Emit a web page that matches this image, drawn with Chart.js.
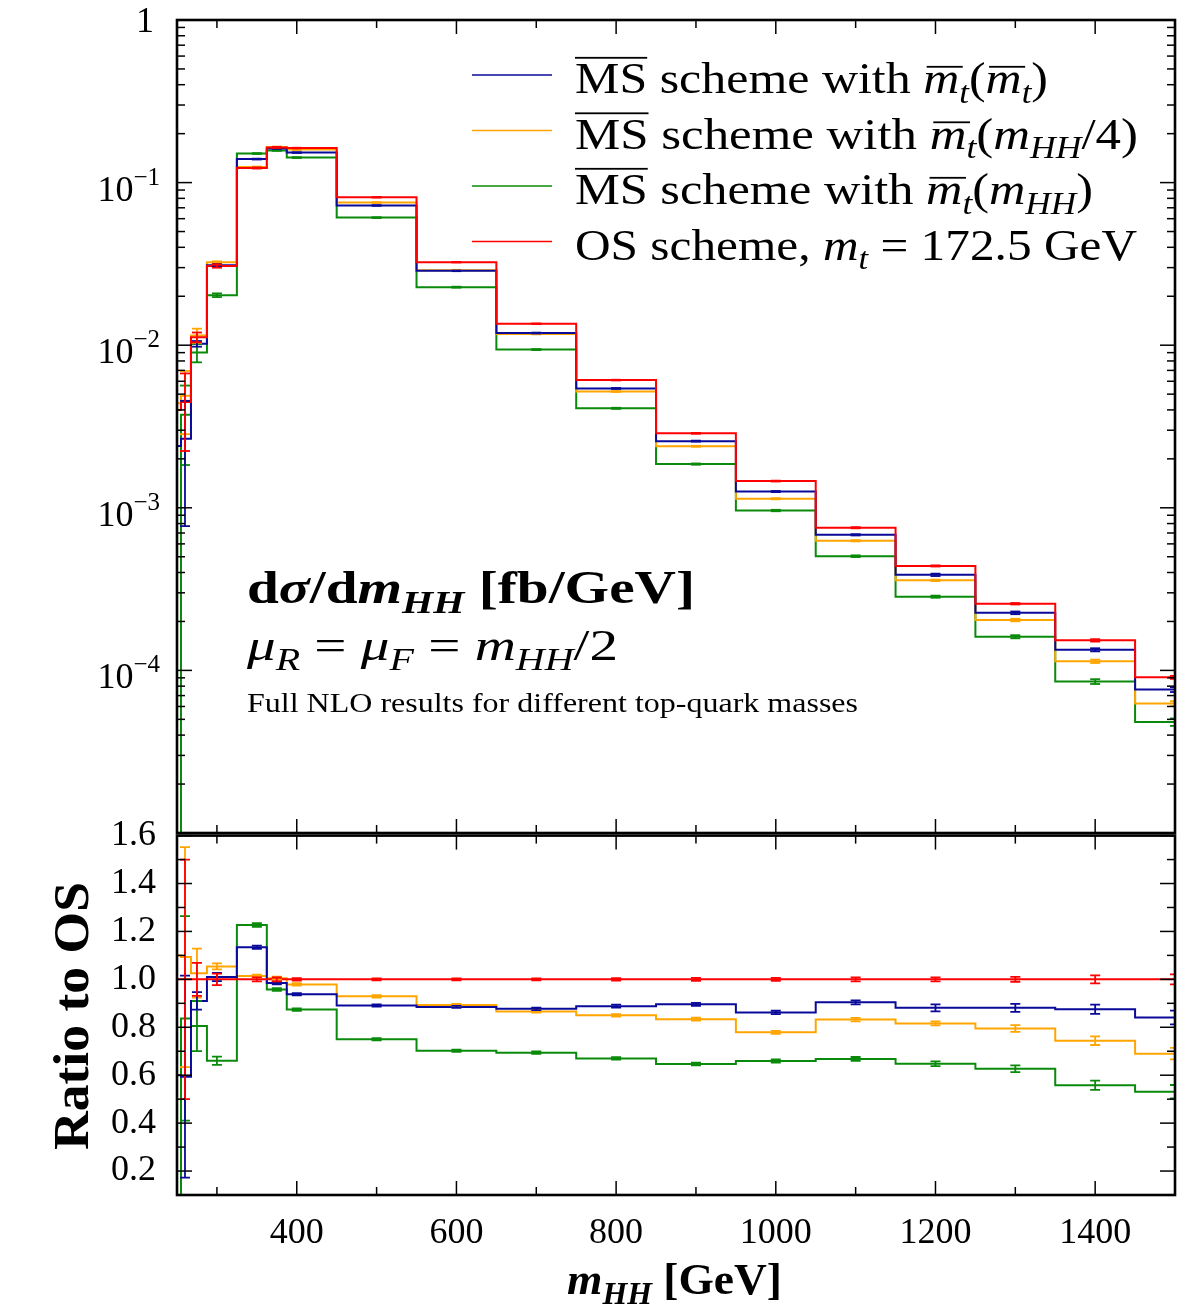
<!DOCTYPE html>
<html>
<head>
<meta charset="utf-8">
<title>m_HH distribution, top-mass schemes</title>
<script src="https://cdn.jsdelivr.net/npm/chart.js@4.4.1/dist/chart.umd.min.js"></script>
<style>
  html, body { margin: 0; padding: 0; background: #fff; }
  #wrap { position: relative; width: 1178px; height: 1306px; overflow: hidden; }
  canvas { position: absolute; left: 0; }
</style>
</head>
<body>
<div id="wrap">
  <canvas id="dist" width="1178" height="840" style="top:0"></canvas>
  <canvas id="ratio" width="1178" height="513" style="top:793px"></canvas>
</div>
<script>
// bin points in m_HH [GeV]
const mhh = [250, 260, 275, 300, 350, 375, 400, 500, 600, 700, 800, 900, 1000, 1100, 1200, 1300, 1400, 1500];

// dsigma/dm_HH [fb/GeV]
const osScheme  = [4.0e-3, 4.47e-3, 1.12e-2, 3.07e-2, 0.123, 0.1646, 0.163, 0.0812, 0.0324, 0.01355, 6.1e-3, 2.87e-3, 1.46e-3, 7.54e-4, 4.39e-4, 2.57e-4, 1.53e-4, 9.06e-5];
const msRunning = [2.4e-3, 2.66e-3, 1.02e-2, 3.10e-2, 0.1395, 0.1621, 0.1529, 0.0723, 0.02867, 0.01188, 5.42e-3, 2.57e-3, 1.259e-3, 6.82e-4, 3.87e-4, 2.26e-4, 1.339e-4, 7.62e-5];
const msQuarter = [4.4e-3, 4.89e-3, 1.149e-2, 3.24e-2, 0.1247, 0.1654, 0.1596, 0.0754, 0.02893, 0.01173, 5.19e-3, 2.39e-3, 1.137e-3, 6.27e-4, 3.58e-4, 2.04e-4, 1.138e-4, 6.25e-5];
const msFull    = [1e-7, 3.74e-3, 9.02e-3, 2.03e-2, 0.1509, 0.1577, 0.1425, 0.0609, 0.02274, 9.40e-3, 4.09e-3, 1.857e-3, 9.62e-4, 5.04e-4, 2.84e-4, 1.611e-4, 8.54e-5, 4.81e-5];

// ratio to OS
const ratioOS      = [1, 1, 1, 1, 1, 1, 1, 1, 1, 1, 1, 1, 1, 1, 1, 1, 1, 1];
const ratioRunning = [0.6, 0.594, 0.91, 1.01, 1.134, 0.985, 0.938, 0.891, 0.885, 0.877, 0.888, 0.896, 0.862, 0.904, 0.881, 0.881, 0.875, 0.841];
const ratioQuarter = [1.1, 1.093, 1.026, 1.054, 1.014, 1.005, 0.979, 0.929, 0.893, 0.866, 0.85, 0.834, 0.779, 0.832, 0.816, 0.795, 0.744, 0.69];
const ratioFull    = [0, 0.837, 0.805, 0.66, 1.227, 0.958, 0.874, 0.75, 0.702, 0.694, 0.67, 0.647, 0.659, 0.668, 0.648, 0.627, 0.558, 0.531];

// relative statistical uncertainty of each point
const errOS      = [0, 0.5, 0.069, 0.024, 0.008, 0.008, 0.005, 0.004, 0.004, 0.004, 0.005, 0.006, 0.006, 0.008, 0.008, 0.01, 0.017, 0.021];
const errRunning = [0, 0.71, 0.04, 0.017, 0.006, 0.006, 0.005, 0.005, 0.005, 0.006, 0.007, 0.007, 0.008, 0.009, 0.017, 0.019, 0.022, 0.034];
const errQuarter = [0, 0.42, 0.1, 0.012, 0.006, 0.006, 0.005, 0.005, 0.005, 0.006, 0.006, 0.007, 0.008, 0.009, 0.01, 0.018, 0.024, 0.035];
const errFull    = [0, 0.51, 0.13, 0.026, 0.006, 0.006, 0.006, 0.006, 0.007, 0.007, 0.008, 0.009, 0.01, 0.012, 0.015, 0.022, 0.034, 0.053];

// axis labels
const xTickLabels = [400, 600, 800, 1000, 1200, 1400];
const ratioTickLabels = [0.2, 0.4, 0.6, 0.8, 1.0, 1.2, 1.4, 1.6];
const decadeExponents = [-4, -3, -2, -1, 0];

const BLUE = '#0a0a9a', ORANGE = '#ffa500', GREEN = '#0a8a0a', RED = '#ff0000';
const SERIF = '"Liberation Serif", "DejaVu Serif", serif';

// ---- small rich text helper (italic, bold, sub/superscript, overbar) ----
function fontFor(p, size) {
  const s = (p.sub || p.sup) ? size * 0.7 : size;
  return `${p.i ? 'italic ' : ''}${p.b ? 'bold ' : ''}${s}px ${SERIF}`;
}
function richWidth(ctx, parts, size) {
  return parts.reduce((w, p) => { ctx.font = fontFor(p, size); return w + ctx.measureText(p.t).width; }, 0);
}
function drawRich(ctx, x, y, parts, size, width) {
  const natural = richWidth(ctx, parts, size);
  ctx.save();
  ctx.translate(x, y);
  ctx.scale(width ? width / natural : 1, 1);
  ctx.fillStyle = '#000';
  ctx.textAlign = 'left';
  ctx.textBaseline = 'alphabetic';
  let cx = 0;
  parts.forEach(p => {
    ctx.font = fontFor(p, size);
    const dy = p.sub ? size * 0.22 : p.sup ? -size * 0.4 : 0;
    ctx.fillText(p.t, cx, dy);
    const w = ctx.measureText(p.t).width;
    if (p.bar) {
      const by = -(p.bar === 'cap' ? 0.78 : 0.58) * size;
      ctx.fillRect(cx + (p.i ? size * 0.07 : 0), by - 1, w, 1.8);
    }
    cx += w;
  });
  ctx.restore();
}

const mbar = { t: 'm', i: true, bar: 'x' };
const sub = t => ({ t, i: true, sub: true });
const legendRows = [
  [{ t: 'MS', bar: 'cap' }, { t: ' scheme with ' }, mbar, sub('t'), { t: '(' }, mbar, sub('t'), { t: ')' }],
  [{ t: 'MS', bar: 'cap' }, { t: ' scheme with ' }, mbar, sub('t'), { t: '(' }, { t: 'm', i: true }, sub('HH'), { t: '/4)' }],
  [{ t: 'MS', bar: 'cap' }, { t: ' scheme with ' }, mbar, sub('t'), { t: '(' }, { t: 'm', i: true }, sub('HH'), { t: ')' }],
  [{ t: 'OS scheme, ' }, { t: 'm', i: true }, sub('t'), { t: ' = 172.5 GeV' }]
];
const legendColors = [BLUE, ORANGE, GREEN, RED];
const legendWidths = [473, 563, 518, 562];

// ---- plugins ----
function line(ctx, x1, y1, x2, y2) {
  ctx.beginPath(); ctx.moveTo(x1, y1); ctx.lineTo(x2, y2); ctx.stroke();
}

const errorBars = {
  id: 'errorBars',
  afterDatasetsDraw(chart) {
    const { ctx, chartArea: a, scales: { x, y } } = chart;
    ctx.save();
    ctx.beginPath(); ctx.rect(a.left, a.top, a.width, a.height); ctx.clip();
    ctx.lineWidth = 1.8;
    chart.data.datasets.slice().reverse().forEach(ds => {
      ctx.strokeStyle = ds.borderColor;
      ds.data.forEach((p, i) => {
        const e = ds.errors[i] * p.y;
        if (!e) return;
        const px = x.getPixelForValue(p.x);
        const hi = y.getPixelForValue(p.y + e);
        const lo = p.y - e > 0 ? y.getPixelForValue(p.y - e) : a.bottom + 20;
        line(ctx, px, hi, px, lo);
        line(ctx, px - 5, hi, px + 5, hi);
        line(ctx, px - 5, lo, px + 5, lo);
      });
    });
    ctx.restore();
  }
};

// inward ticks on all four sides plus the frame
const frame = {
  id: 'frame',
  afterDraw(chart, args, opts) {
    const { ctx, chartArea: a, scales: { x, y } } = chart;
    ctx.save();
    ctx.strokeStyle = '#000';
    ctx.lineWidth = 1.5;
    for (let v = 300; v <= 1500; v += 100) {
      const px = x.getPixelForValue(v);
      const len = v % 200 === 0 ? 14 : 8;
      line(ctx, px, a.bottom, px, a.bottom - len);
      line(ctx, px, a.top, px, a.top + len);
    }
    opts.yTicks.forEach(([v, major]) => {
      const py = y.getPixelForValue(v);
      const len = major ? 15 : 8;
      line(ctx, a.left, py, a.left + len, py);
      line(ctx, a.right, py, a.right - len, py);
    });
    ctx.lineWidth = 2.6;
    ctx.strokeRect(a.left, a.top, a.right - a.left, a.bottom - a.top);
    ctx.restore();
  }
};

const distTexts = {
  id: 'distTexts',
  afterDraw(chart) {
    const { ctx, scales: { y } } = chart;
    // decade labels with superscripts
    ctx.save();
    ctx.fillStyle = '#000';
    ctx.textAlign = 'right';
    ctx.textBaseline = 'alphabetic';
    decadeExponents.forEach(k => {
      const py = y.getPixelForValue(Math.pow(10, k));
      if (k === 0) {
        ctx.font = `36px ${SERIF}`;
        ctx.fillText('1', 154, py + 12);
        return;
      }
      ctx.font = `25px ${SERIF}`;
      const s = '\u2212' + Math.abs(k);
      const sw = ctx.measureText(s).width;
      ctx.fillText(s, 160, py + 2);
      ctx.font = `36px ${SERIF}`;
      ctx.fillText('10', 160 - sw, py + 18);
    });
    ctx.restore();

    // legend
    ctx.save();
    ctx.lineWidth = 1.6;
    legendRows.forEach((row, i) => {
      const yl = 75 + i * 55.5;
      ctx.strokeStyle = legendColors[i];
      line(ctx, 472, yl, 552, yl);
      drawRich(ctx, 575, yl + 18, row, 45, legendWidths[i]);
    });
    ctx.restore();

    // annotation
    drawRich(ctx, 247, 603, [
      { t: 'd', b: true }, { t: '\u03c3', b: true, i: true }, { t: '/d', b: true },
      { t: 'm', b: true, i: true }, { t: 'HH', b: true, i: true, sub: true }, { t: ' [fb/GeV]', b: true }
    ], 46, 448);
    drawRich(ctx, 247, 660, [
      { t: '\u03bc', i: true }, { t: 'R', i: true, sub: true }, { t: ' = ' },
      { t: '\u03bc', i: true }, { t: 'F', i: true, sub: true }, { t: ' = ' },
      { t: 'm', i: true }, { t: 'HH', i: true, sub: true }, { t: '/2' }
    ], 44, 371);
    drawRich(ctx, 247, 712, [{ t: 'Full NLO results for different top-quark masses' }], 27, 611);
  }
};

// canvas of the ratio panel starts at page y = 793
const ratioTexts = {
  id: 'ratioTexts',
  afterDraw(chart) {
    const { ctx } = chart;
    ctx.save();
    ctx.translate(88, 357);
    ctx.rotate(-Math.PI / 2);
    drawRich(ctx, 0, 0, [{ t: 'Ratio to OS', b: true }], 50, 268);
    ctx.restore();
    drawRich(ctx, 567, 501, [
      { t: 'm', b: true, i: true }, { t: 'HH', b: true, i: true, sub: true }, { t: ' [GeV]', b: true }
    ], 44, 215);
  }
};

// ---- charts ----
function stepSet(values, errors, color, order) {
  return {
    data: mhh.map((x, i) => ({ x, y: values[i] })),
    errors,
    borderColor: color,
    borderWidth: 2,
    stepped: 'middle',
    pointRadius: 0,
    fill: false,
    order
  };
}

const common = {
  responsive: false,
  animation: false,
  devicePixelRatio: 1,
  events: [],
  plugins: { legend: { display: false }, tooltip: { enabled: false } }
};

const upperTicks = [[1, true]];
for (let k = -5; k <= -1; k++) {
  for (let m = 1; m <= 9; m++) upperTicks.push([m * Math.pow(10, k), m === 1]);
}
const lowerTicks = [];
for (let j = 1; j <= 16; j++) lowerTicks.push([j / 10, j % 2 === 0]);

new Chart(document.getElementById('dist'), {
  type: 'line',
  data: {
    datasets: [
      stepSet(osScheme, errOS, RED, 0),
      stepSet(msRunning, errRunning, BLUE, 1),
      stepSet(msQuarter, errQuarter, ORANGE, 2),
      stepSet(msFull, errFull, GREEN, 3)
    ]
  },
  options: {
    ...common,
    layout: { padding: { left: 0, right: 3, top: 20, bottom: 7 } },
    plugins: { ...common.plugins, frame: { yTicks: upperTicks } },
    scales: {
      x: { type: 'linear', min: 250, max: 1500, display: false },
      y: {
        type: 'logarithmic', min: 1e-5, max: 1,
        grid: { display: false, drawTicks: false },
        border: { display: false },
        ticks: { display: false },
        afterFit: s => { s.width = 177; }
      }
    }
  },
  plugins: [errorBars, frame, distTexts]
});

new Chart(document.getElementById('ratio'), {
  type: 'line',
  data: {
    datasets: [
      stepSet(ratioOS, errOS, RED, 0),
      stepSet(ratioRunning, errRunning, BLUE, 1),
      stepSet(ratioQuarter, errQuarter, ORANGE, 2),
      stepSet(ratioFull, errFull, GREEN, 3)
    ]
  },
  options: {
    ...common,
    layout: { padding: { left: 0, right: 3, top: 28, bottom: 0 } },
    plugins: { ...common.plugins, frame: { yTicks: lowerTicks } },
    scales: {
      x: {
        type: 'linear', min: 250, max: 1500,
        grid: { display: false, drawTicks: false },
        border: { display: false },
        afterBuildTicks: s => { s.ticks = xTickLabels.map(v => ({ value: v })); },
        afterFit: s => { s.height = 111; },
        ticks: {
          autoSkip: false, maxRotation: 0, padding: 17, color: '#000',
          font: { family: SERIF, size: 36 },
          callback: v => String(v)
        }
      },
      y: {
        type: 'linear', min: 0.1, max: 1.6,
        grid: { display: false, drawTicks: false },
        border: { display: false },
        afterBuildTicks: s => { s.ticks = ratioTickLabels.map(v => ({ value: v })); },
        afterFit: s => { s.width = 177; },
        ticks: {
          padding: 21, color: '#000',
          font: { family: SERIF, size: 36 },
          callback: v => v.toFixed(1)
        }
      }
    }
  },
  plugins: [errorBars, frame, ratioTexts]
});
</script>
</body>
</html>
